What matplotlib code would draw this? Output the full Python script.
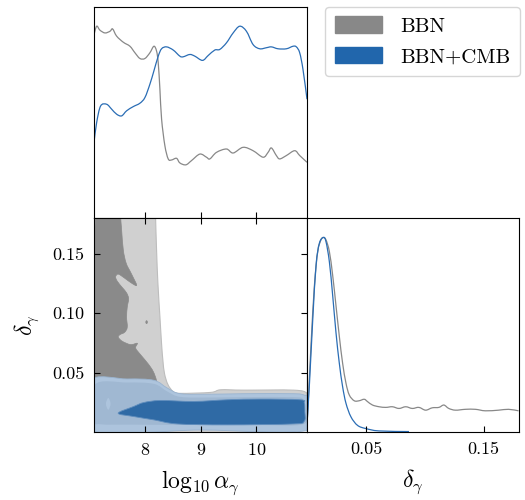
import numpy as np
import matplotlib
matplotlib.use('Agg')
import matplotlib.pyplot as plt
from matplotlib.patches import Patch, PathPatch
from matplotlib.path import Path

plt.rcParams['font.family'] = 'serif'
plt.rcParams['font.serif'] = ['cmr10']
plt.rcParams['mathtext.fontset'] = 'cm'
plt.rcParams['axes.formatter.use_mathtext'] = True

# 1D marginal of log10 alpha_gamma (normalised to axis height)
alpha_bbn_x = [7.086, 7.134, 7.193, 7.283, 7.373, 7.420, 7.492, 7.612, 7.731, 7.821,
               7.910, 8.000, 8.089, 8.161, 8.209, 8.239, 8.269, 8.299, 8.358, 8.418,
               8.478, 8.567, 8.627, 8.735, 8.836, 8.986, 9.105, 9.165, 9.284, 9.463,
               9.583, 9.762, 9.941, 10.121, 10.210, 10.270, 10.359, 10.419, 10.539,
               10.688, 10.778, 10.909]
alpha_bbn_p = [0.869, 0.909, 0.890, 0.877, 0.885, 0.896, 0.862, 0.833, 0.814, 0.783,
               0.756, 0.756, 0.783, 0.814, 0.791, 0.735, 0.610, 0.469, 0.343, 0.280,
               0.275, 0.283, 0.261, 0.252, 0.272, 0.303, 0.288, 0.280, 0.311, 0.327,
               0.308, 0.335, 0.319, 0.288, 0.311, 0.332, 0.296, 0.280, 0.296, 0.319,
               0.296, 0.264]
alpha_cmb_x = [7.086, 7.134, 7.205, 7.313, 7.402, 7.492, 7.582, 7.671, 7.791, 7.910,
               8.000, 8.089, 8.161, 8.239, 8.299, 8.388, 8.508, 8.627, 8.687, 8.806,
               8.896, 9.033, 9.135, 9.254, 9.344, 9.463, 9.583, 9.702, 9.822, 9.941,
               10.061, 10.180, 10.270, 10.389, 10.539, 10.658, 10.718, 10.778, 10.837,
               10.909]
alpha_cmb_p = [0.358, 0.453, 0.531, 0.539, 0.516, 0.492, 0.484, 0.508, 0.528, 0.544,
               0.571, 0.634, 0.697, 0.767, 0.802, 0.811, 0.796, 0.767, 0.764, 0.775,
               0.767, 0.747, 0.770, 0.796, 0.799, 0.830, 0.877, 0.909, 0.885, 0.822,
               0.802, 0.807, 0.811, 0.802, 0.802, 0.814, 0.811, 0.783, 0.704, 0.563]

# 1D marginal of delta_gamma
delta_bbn_x = [0.0, 0.0007, 0.0035, 0.0063, 0.0091, 0.0119, 0.0139, 0.0161, 0.0190,
               0.0218, 0.0246, 0.0274, 0.0302, 0.0331, 0.0359, 0.0401, 0.0443, 0.0486,
               0.0514, 0.0556, 0.0612, 0.0669, 0.0725, 0.0781, 0.0838, 0.0894, 0.0950,
               0.1007, 0.1063, 0.1120, 0.1162, 0.1204, 0.1260, 0.1345, 0.1430, 0.1514,
               0.1627, 0.1711, 0.1796]
delta_bbn_p = [0.039, 0.102, 0.417, 0.685, 0.843, 0.898, 0.909, 0.898, 0.843, 0.732,
               0.591, 0.449, 0.323, 0.228, 0.173, 0.146, 0.146, 0.153, 0.142, 0.126,
               0.118, 0.115, 0.118, 0.110, 0.118, 0.110, 0.115, 0.102, 0.113, 0.115,
               0.126, 0.110, 0.102, 0.106, 0.106, 0.099, 0.102, 0.106, 0.099]
delta_cmb_x = [0.0, 0.0021, 0.0049, 0.0077, 0.0105, 0.0139, 0.0161, 0.0190, 0.0218,
               0.0246, 0.0274, 0.0302, 0.0331, 0.0373, 0.0429, 0.0500, 0.0612, 0.0866]
delta_cmb_p = [0.039, 0.228, 0.528, 0.780, 0.882, 0.909, 0.890, 0.795, 0.638, 0.465,
               0.323, 0.213, 0.134, 0.071, 0.031, 0.016, 0.005, 0.002]

# 2D credible regions (log10 alpha_gamma, delta_gamma)
bbn95_x = [7.0, 8.191, 8.191, 8.209, 8.233, 8.269, 8.299, 8.323, 8.352, 8.412, 8.508,
           8.639, 9.18, 9.36, 9.77, 10.67, 10.91, 10.95, 10.95, 7.0]
bbn95_y = [0.19, 0.19, 0.181, 0.153, 0.125, 0.097, 0.074, 0.060, 0.049, 0.040, 0.034,
           0.0325, 0.0333, 0.0355, 0.0352, 0.0352, 0.0325, 0.025, 0.003, 0.003]
bbn68_x = [7.134, 7.564, 7.564, 7.582, 7.612, 7.665, 7.755, 7.851, 7.755, 7.636, 7.522,
           7.474, 7.504, 7.594, 7.671, 7.707, 7.683, 7.671, 7.683, 7.636, 7.552, 7.522,
           7.594, 7.743, 7.863, 7.833, 7.922, 8.054, 8.149, 8.209, 8.233, 8.233, 7.134]
bbn68_y = [0.19, 0.19, 0.1814, 0.1701, 0.1531, 0.1418, 0.1333, 0.1235, 0.1254, 0.1294,
           0.1328, 0.1305, 0.1268, 0.1215, 0.1170, 0.1121, 0.1051, 0.0966, 0.0881,
           0.0839, 0.0819, 0.0797, 0.0763, 0.0735, 0.0746, 0.0706, 0.0650, 0.0576,
           0.0509, 0.0429, 0.0317, 0.0119, 0.0062]
bbn68_dot_x = [8.015, 8.030, 8.045, 8.030]
bbn68_dot_y = [0.0924, 0.0937, 0.0924, 0.0911]

cmb95_x = [7.0, 7.68, 8.16, 8.40, 8.64, 9.18, 9.77, 10.67, 10.86, 10.95, 10.95, 9.0, 7.0]
cmb95_y = [0.0428, 0.0446, 0.0435, 0.0370, 0.0322, 0.0318, 0.0322, 0.0322, 0.0310,
           0.028, 0.0017, 0.0017, 0.0017]
cmbmid_x = [7.10, 7.68, 8.16, 8.40, 8.64, 9.18, 9.77, 10.67, 10.84, 10.87, 10.84,
            10.0, 8.5, 7.8, 7.2, 7.10]
cmbmid_y = [0.0398, 0.0416, 0.0405, 0.0341, 0.0295, 0.0290, 0.0293, 0.0293, 0.0272,
            0.018, 0.0065, 0.0058, 0.0060, 0.0062, 0.0065, 0.010]
cmbspot_x = [7.30, 7.342, 7.384, 7.342]
cmbspot_y = [0.0237, 0.0287, 0.0237, 0.0187]
cmb68_x = [7.52, 7.80, 7.98, 8.28, 8.88, 9.48, 10.07, 10.79, 10.86, 10.87, 10.86,
           10.67, 9.48, 8.58, 8.16, 7.80]
cmb68_y = [0.0158, 0.0215, 0.0248, 0.0265, 0.0257, 0.0271, 0.0277, 0.0271, 0.0245,
           0.0170, 0.0090, 0.0068, 0.0060, 0.0068, 0.0102, 0.0130]

gray_line = '#888888'
blue_line = '#2a6db5'


def smooth_path(x, y, closed=False):
    # Catmull-Rom curve through the points, drawn as cubic Bezier segments
    pts = np.column_stack([x, y]).astype(float)
    if closed:
        ext = np.vstack([pts[-1], pts, pts[0], pts[1]])
    else:
        ext = np.vstack([pts[0], pts, pts[-1]])
    verts = [ext[1]]
    codes = [Path.MOVETO]
    for i in range(1, len(ext) - 2):
        p0, p1, p2, p3 = ext[i - 1], ext[i], ext[i + 1], ext[i + 2]
        verts += [p1 + (p2 - p0) / 6.0, p2 - (p3 - p1) / 6.0, p2]
        codes += [Path.CURVE4] * 3
    if closed:
        verts.append(ext[1])
        codes.append(Path.CLOSEPOLY)
    return Path(verts, codes)


def curve(ax, x, y, color):
    ax.add_patch(PathPatch(smooth_path(x, y), facecolor='none', edgecolor=color, lw=0.9))


def region(ax, x, y, fc, ec='none', lw=0.0):
    ax.add_patch(PathPatch(smooth_path(x, y, closed=True), facecolor=fc, edgecolor=ec, lw=lw))


fig = plt.figure(figsize=(5.25, 5.0), dpi=100)
ax_a = fig.add_axes([94/525, 1-218/500, 213/525, 211/500])
ax_2d = fig.add_axes([94/525, 1-432/500, 213/525, 214/500])
ax_d = fig.add_axes([307/525, 1-432/500, 212/525, 214/500])

xlim_a = (7.086, 10.909)
xlim_d = (0.0, 0.18)

# top: alpha marginal
curve(ax_a, alpha_bbn_x, alpha_bbn_p, gray_line)
curve(ax_a, alpha_cmb_x, alpha_cmb_p, blue_line)
ax_a.set_xlim(*xlim_a)
ax_a.set_ylim(0, 1)
ax_a.set_xticks([8, 9, 10])
ax_a.set_yticks([])
ax_a.tick_params(axis='x', direction='in', length=4, labelbottom=False)

# 2D contours
region(ax_2d, bbn95_x, bbn95_y, '#d0d0d0', '#bdbdbd', 0.8)
region(ax_2d, bbn68_x, bbn68_y, '#8a8a8a', '#8a8a8a', 0.5)
region(ax_2d, bbn68_dot_x, bbn68_dot_y, '#8a8a8a', '#8a8a8a', 0.5)
region(ax_2d, cmb95_x, cmb95_y, '#adc4dd', '#9ab4d0', 0.6)
region(ax_2d, cmbmid_x, cmbmid_y, '#a0b8d2')
region(ax_2d, cmbspot_x, cmbspot_y, '#adc4dd')
region(ax_2d, cmb68_x, cmb68_y, '#2f6aa5', '#5f8dbd', 0.6)
ax_2d.set_xlim(*xlim_a)
ax_2d.set_ylim(*xlim_d)
ax_2d.set_xticks([8, 9, 10])
ax_2d.set_yticks([0.05, 0.10, 0.15])
ax_2d.set_yticklabels(['0.05', '0.10', '0.15'])
ax_2d.tick_params(direction='in', length=4, top=True, right=True, labelsize=13, pad=7)
ax_2d.set_xlabel(r'$\log_{10}\alpha_\gamma$', fontsize=17, labelpad=8)
ax_2d.set_ylabel(r'$\delta_\gamma$', fontsize=17, labelpad=8)

# right: delta marginal
curve(ax_d, delta_bbn_x, delta_bbn_p, gray_line)
curve(ax_d, delta_cmb_x, delta_cmb_p, blue_line)
ax_d.set_xlim(*xlim_d)
ax_d.set_ylim(0, 1)
ax_d.set_xticks([0.05, 0.15])
ax_d.set_xticklabels(['0.05', '0.15'])
ax_d.set_yticks([])
ax_d.tick_params(axis='x', direction='in', length=4, labelsize=13, pad=7)
ax_d.set_xlabel(r'$\delta_\gamma$', fontsize=17, labelpad=8)

handles = [Patch(color='#888888', label='BBN'), Patch(color='#2166ac', label='BBN+CMB')]
fig.legend(handles=handles, loc='upper right', bbox_to_anchor=(520/525, 1-7/500),
           borderaxespad=0.0, fontsize=15, frameon=True, fancybox=True,
           handlelength=2.26, handleheight=0.82, borderpad=0.45, labelspacing=0.55,
           handletextpad=0.9)

fig.savefig('out.png', dpi=100)
